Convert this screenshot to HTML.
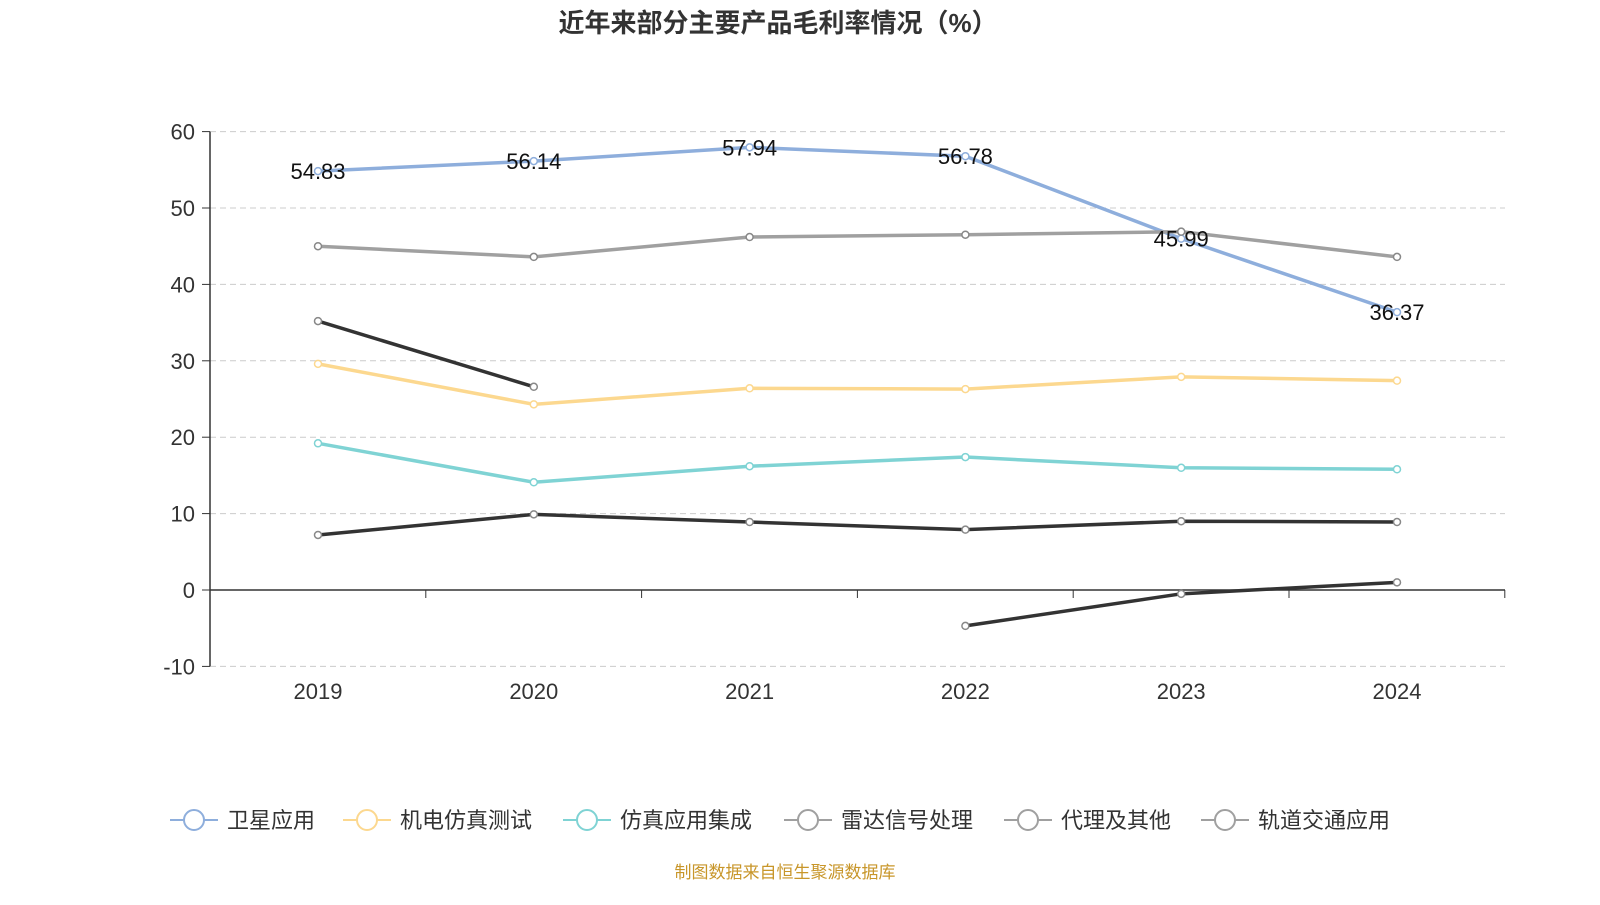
<!DOCTYPE html>
<html><head><meta charset="utf-8"><style>
body{margin:0;background:#fff;}
svg text{font-family:"Liberation Sans","Noto Sans CJK SC",sans-serif;}
</style></head><body>
<svg width="1600" height="900" xmlns="http://www.w3.org/2000/svg">
<text x="778" y="32" text-anchor="middle" font-size="26" font-weight="bold" fill="#333">近年来部分主要产品毛利率情况（%）</text>
<g id="grid"></g><g id="axes"></g><g id="series"></g><g id="legend"></g>
<text x="785" y="878" text-anchor="middle" font-size="17" fill="#c8962a">制图数据来自恒生聚源数据库</text>
</svg>
<script>
const categories=["2019","2020","2021","2022","2023","2024"];
const yTicks=[60,50,40,30,20,10,0,-10];
const seriesNames=["卫星应用","机电仿真测试","仿真应用集成","雷达信号处理","代理及其他","轨道交通应用"];
const satellite=[54.83,56.14,57.94,56.78,45.99,36.37];
const electromech=[29.6,24.3,26.4,26.3,27.9,27.4];
const simIntegration=[19.2,14.1,16.2,17.4,16.0,15.8];
const radar=[45.0,43.6,46.2,46.5,46.9,43.6];
const agency=[7.2,9.9,8.9,7.9,9.0,8.9];
const rail=[35.2,26.6,null,-4.7,-0.5,1.0];
const colors=["#8eaedc","#fcd88f","#7fd3d4","#a0a0a0","#333333","#333333"];
const legendColors=["#8eaedc","#fcd88f","#7fd3d4","#a0a0a0","#a0a0a0","#a0a0a0"];
const NS="http://www.w3.org/2000/svg";
const x=i=>318+i*215.8;
const y=v=>590-v*7.64;
function mk(t,a,p){const e=document.createElementNS(NS,t);for(const k in a)e.setAttribute(k,a[k]);p.appendChild(e);return e;}
const grid=document.getElementById('grid'),axes=document.getElementById('axes'),ser=document.getElementById('series'),leg=document.getElementById('legend');
yTicks.forEach(t=>{
 if(t!==0){const l=mk('line',{x1:210,x2:1505,y1:y(t),y2:y(t),stroke:'#ccc','stroke-dasharray':'6,4'},grid);
 
 }
 mk('line',{x1:202,x2:210,y1:y(t),y2:y(t),stroke:'#333'},axes);
 const tx=mk('text',{x:195,y:y(t)+8,'text-anchor':'end','font-size':22,fill:'#333'},axes);tx.textContent=t;
 
 
});
mk('line',{x1:210,x2:210,y1:y(60),y2:y(-10),stroke:'#333','stroke-width':1.5},axes);
const xa=mk('line',{x1:210,x2:1505,y1:y(0),y2:y(0),stroke:'#333','stroke-width':1.5},axes);


for(let i=0;i<=6;i++){const px=210+i*215.8;mk('line',{x1:px,x2:px,y1:y(0),y2:y(0)+8,stroke:'#333'},axes);}
categories.forEach((c,i)=>{const t=mk('text',{x:x(i),y:699,'text-anchor':'middle','font-size':22,fill:'#333'},axes);t.textContent=c;
 
 });
const all=[satellite,electromech,simIntegration,radar,agency,rail];
all.forEach((d,s)=>{
 const g=mk('g',{},ser);
 
 
 let segs=[],cur=[];
 d.forEach((v,i)=>{if(v===null){if(cur.length)segs.push(cur);cur=[];}else cur.push([x(i),y(v)]);});
 if(cur.length)segs.push(cur);
 segs.forEach(sg=>mk('polyline',{points:sg.map(p=>p.join(',')).join(' '),fill:'none',stroke:colors[s],'stroke-width':3.5},g));
 d.forEach((v,i)=>{if(v===null)return;const c=mk('circle',{cx:x(i),cy:y(v),r:3.5,fill:'#fff',stroke:s>=3?'#888':colors[s],'stroke-width':1.5},g);
  
  });
});
satellite.forEach((v,i)=>{const t=mk('text',{x:x(i),y:y(v)+8,'text-anchor':'middle','font-size':22,fill:'#111'},ser);t.textContent=v.toFixed(2);
 
 });
const lx=[170,343,563,784,1004,1201];
seriesNames.forEach((n,i)=>{
 const g=mk('g',{},leg);
 
 
 mk('line',{x1:lx[i],x2:lx[i]+48,y1:820,y2:820,stroke:legendColors[i],'stroke-width':2},g);
 mk('circle',{cx:lx[i]+24,cy:820,r:10,fill:'#fff',stroke:legendColors[i],'stroke-width':2},g);
 const t=mk('text',{x:lx[i]+57,y:828,'font-size':22,fill:'#333'},g);t.textContent=n;
});
</script>
</body></html>
